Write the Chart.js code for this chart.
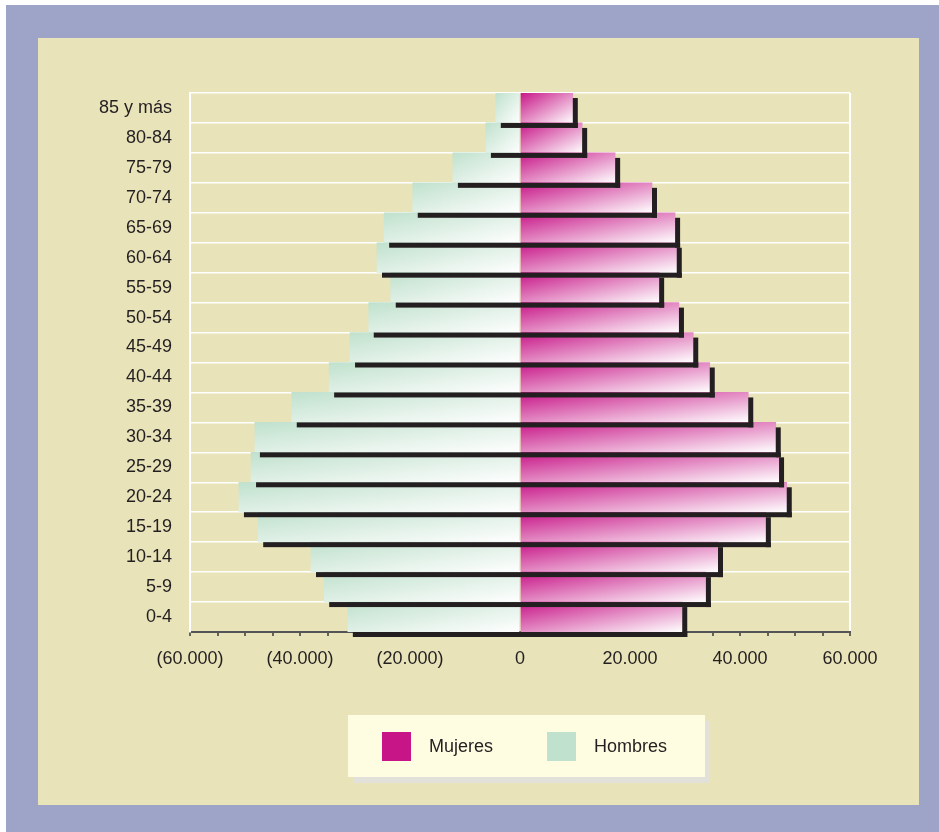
<!DOCTYPE html>
<html lang="es">
<head>
<meta charset="utf-8">
<title>Pirámide de población</title>
<script src="https://cdn.jsdelivr.net/npm/chart.js@4.4.1/dist/chart.umd.min.js"></script>
<style>
  html, body { margin: 0; padding: 0; background: #fff; }
  body { width: 939px; height: 832px; position: relative; overflow: hidden; font-family: "Liberation Sans", Arial, sans-serif; }
  #frame { position: absolute; left: 6px; top: 5px; width: 933px; height: 827px; background: #9ea3c8; }
  #panel { position: absolute; left: 38px; top: 38px; width: 881px; height: 767px; background: #e8e3b9; }
  #chart { position: absolute; left: 0; top: 0; }
  #legend { position: absolute; left: 348px; top: 715px; width: 357px; height: 62px; background: #fffde1;
            box-shadow: 5px 6px 0 #e2e1d9; display: flex; align-items: center; padding-left: 34px; box-sizing: border-box; }
  #legend .item { display: flex; align-items: center; flex: none; }
  #legend .item:first-child { width: 165px; }
  #legend .sw { width: 29px; height: 29px; margin-right: 18px; }
  #legend span { font-size: 18px; color: #231f20; }
</style>
</head>
<body>
<div id="frame"></div>
<div id="panel"></div>
<canvas id="chart" width="939" height="832"></canvas>
<div id="legend"></div>
<script>
// grupos de edad, de arriba a abajo
const ageGroups = ['85 y más', '80-84', '75-79', '70-74', '65-69', '60-64', '55-59', '50-54', '45-49',
                   '40-44', '35-39', '30-34', '25-29', '20-24', '15-19', '10-14', '5-9', '0-4'];
const mujeres = [9600, 11300, 17300, 24000, 28200, 28500, 25300, 28900, 31500,
                 34500, 41500, 46500, 47100, 48500, 44700, 36000, 33800, 29500];
const hombres = [4400, 6200, 12200, 19500, 24700, 26000, 23500, 27500, 30900,
                 34700, 41500, 48200, 48900, 51100, 47600, 38000, 35600, 31300];
const labeledTicks = [-60000, -40000, -20000, 0, 20000, 40000, 60000];

const seriesNames = ['Mujeres', 'Hombres'];
const seriesColors = ['#c71587', '#c0e1cd'];
const shadowColor = '#231f20';

function fmt(v) {
    const s = String(Math.abs(v)).replace(/\B(?=(\d{3})+(?!\d))/g, '.');
    return v < 0 ? '(' + s + ')' : s;
}

// degradado de arriba-izquierda a abajo-derecha dentro de cada barra
function barGradient(c, col) {
    const chart = c.chart;
    const xs = chart.scales.x, ys = chart.scales.y;
    if (c.type !== 'data' || !xs || !ys || !chart.chartArea) return col;
    const a = xs.getPixelForValue(0), b = xs.getPixelForValue(c.raw);
    const band = (ys.bottom - ys.top) / ageGroups.length;
    const left = Math.min(a, b), w = Math.abs(b - a) || 1;
    const top = ys.getPixelForValue(c.dataIndex) - band / 2, h = band;
    const k = 2 * w * h / (w * w + h * h);
    const g = chart.ctx.createLinearGradient(left, top, left + k * h, top + k * w);
    g.addColorStop(0, col);
    g.addColorStop(1, '#ffffff');
    return g;
}

const shadowPlugin = {
    id: 'shadow',
    afterDatasetsDraw(chart) {
        const ctx = chart.ctx;
        const fem = chart.getDatasetMeta(0).data;
        const mal = chart.getDatasetMeta(1).data;
        const dx = 5, dy = 5;
        ctx.save();
        ctx.fillStyle = shadowColor;
        for (let i = 0; i < fem.length; i++) {
            const f = fem[i], m = mal[i];
            const top = f.y - f.height / 2, bottom = f.y + f.height / 2;
            ctx.fillRect(m.x + dx, bottom, f.x - m.x, dy);
            ctx.fillRect(f.x, top + dy, dx, bottom - top);
        }
        ctx.restore();
    }
};

const ctx = document.getElementById('chart').getContext('2d');
const chart = new Chart(ctx, {
    type: 'bar',
    data: {
        labels: ageGroups,
        datasets: [{
            label: seriesNames[0],
            data: mujeres,
            backgroundColor: c => barGradient(c, seriesColors[0]),
            barPercentage: 1,
            categoryPercentage: 1,
            borderWidth: 0
        }, {
            label: seriesNames[1],
            data: hombres.map(v => -v),
            backgroundColor: c => barGradient(c, seriesColors[1]),
            barPercentage: 1,
            categoryPercentage: 1,
            borderWidth: 0
        }]
    },
    options: {
        indexAxis: 'y',
        responsive: false,
        devicePixelRatio: 1,
        animation: false,
        layout: { padding: { left: 0, top: 93, right: 89, bottom: 160 } },
        plugins: { legend: { display: false }, tooltip: { enabled: false } },
        scales: {
            x: {
                stacked: true,
                min: -60000,
                max: 60000,
                afterFit: s => { s.height = 40; },
                ticks: {
                    stepSize: 5000,
                    autoSkip: false,
                    maxRotation: 0,
                    padding: 12,
                    color: '#231f20',
                    font: { family: 'Liberation Sans', size: 18 },
                    callback: v => labeledTicks.includes(v) ? fmt(v) : ''
                },
                grid: {
                    color: c => (c.tick && Math.abs(c.tick.value) === 60000) ? '#ffffff' : 'rgba(0,0,0,0)',
                    lineWidth: 2,
                    tickColor: '#3a3a3a',
                    tickLength: 4,
                    tickWidth: 1.5
                },
                border: { color: '#555555', width: 2 }
            },
            y: {
                stacked: true,
                afterFit: s => { s.width = 190; },
                ticks: {
                    padding: 18,
                    color: '#231f20',
                    font: { family: 'Liberation Sans', size: 18 }
                },
                grid: { color: '#ffffff', lineWidth: 1.5, offset: true, drawTicks: false },
                border: { color: '#ffffff', width: 2 }
            }
        }
    },
    plugins: [shadowPlugin]
});

// leyenda
const legend = document.getElementById('legend');
seriesNames.forEach((name, i) => {
    const item = document.createElement('div');
    item.className = 'item';
    const sw = document.createElement('div');
    sw.className = 'sw';
    sw.style.background = seriesColors[i];
    const t = document.createElement('span');
    t.textContent = name;
    item.appendChild(sw);
    item.appendChild(t);
    legend.appendChild(item);
});
</script>
</body>
</html>
